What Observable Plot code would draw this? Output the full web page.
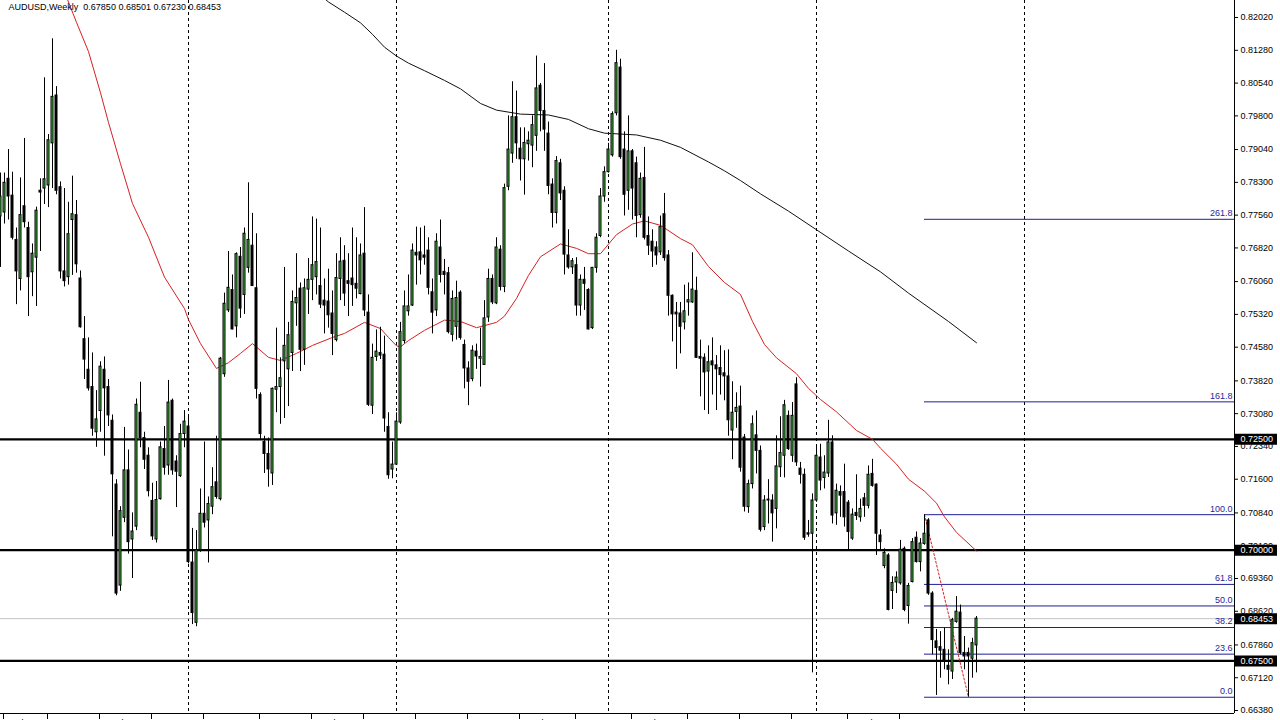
<!DOCTYPE html>
<html><head><meta charset="utf-8">
<script src="https://cdn.jsdelivr.net/npm/d3@7"></script>
<script src="https://cdn.jsdelivr.net/npm/@observablehq/plot@0.6"></script>
<style>html,body{margin:0;padding:0;overflow:hidden;background:#fff}</style>
</head><body><div id="chart"></div>
<script>
// Weekly AUDUSD candles (index 0 = week of 8 Feb 2015)
const open = [
0.7753,0.7762,0.7838,0.7800,0.7700,0.7612,0.7776,0.7727,0.7627,0.7660,
0.7811,0.7816,0.7823,0.7918,0.8026,0.7819,0.7629,0.7616,0.7745,0.7756,
0.7613,0.7476,0.7407,0.7368,0.7266,0.7314,0.7407,0.7368,0.7292,0.7148,
0.6920,0.7073,0.7180,0.7024,0.7053,0.7310,0.7253,0.7213,0.7111,0.7024,
0.7115,0.7228,0.7191,0.7337,0.7200,0.7167,0.7262,0.7279,0.6972,0.6836,
0.7000,0.7082,0.7067,0.7098,0.7153,0.7115,0.7397,0.7541,0.7587,0.7505,
0.7662,0.7576,0.7637,0.7687,0.7591,0.7350,0.7244,0.7217,0.7173,0.7362,
0.7368,0.7426,0.7408,0.7445,0.7557,0.7590,0.7452,0.7588,0.7610,0.7616,
0.7596,0.7563,0.7561,0.7534,0.7474,0.7612,0.7653,0.7607,0.7613,0.7601,
0.7578,0.7669,0.7536,0.7326,0.7436,0.7445,0.7441,0.7278,0.7182,0.7193,
0.7288,0.7472,0.7539,0.7552,0.7671,0.7672,0.7665,0.7676,0.7582,0.7541,
0.7683,0.7628,0.7625,0.7486,0.7504,0.7581,0.7463,0.7410,0.7386,0.7448,
0.7432,0.7418,0.7525,0.7612,0.7557,0.7678,0.7594,0.7820,0.7895,0.7977,
0.7906,0.7882,0.7916,0.7913,0.7935,0.8048,0.7991,0.7940,0.7825,0.7761,
0.7873,0.7811,0.7665,0.7638,0.7643,0.7552,0.7610,0.7587,0.7501,0.7637,
0.7709,0.7798,0.7853,0.7891,0.7986,0.8089,0.7904,0.7811,0.7900,0.7873,
0.7756,0.7840,0.7709,0.7696,0.7683,0.7672,0.7758,0.7665,0.7574,0.7536,
0.7534,0.7514,0.7559,0.7559,0.7585,0.7436,0.7434,0.7403,0.7426,0.7417,
0.7411,0.7399,0.7392,0.7270,0.7312,0.7324,0.7254,0.7097,0.7149,0.7259,
0.7224,0.7052,0.7112,0.7112,0.7093,0.7187,0.7213,0.7303,0.7213,0.7374,
0.7184,0.7170,0.7038,0.7037,0.7112,0.7209,0.7163,0.7173,0.7243,0.7083,
0.7131,0.7131,0.7107,0.7026,0.7084,0.7074,0.7117,0.7100,0.7172,0.7148,
0.7033,0.6964,0.6988,0.6908,0.6927,0.6925,0.7003,0.6874,0.6928,0.7028,
0.6973,0.7014,0.7067,0.6902,0.6794,0.6781,0.6775,0.6739,0.6726,0.6838,
0.6859,0.6768,0.6768,0.6755,0.67850];
const high = [
0.7851,0.7851,0.7904,0.7853,0.7727,0.7840,0.7929,0.7740,0.7691,0.7774,
0.7838,0.8066,0.7938,0.8154,0.8046,0.7831,0.7816,0.7785,0.7844,0.7789,
0.7630,0.7527,0.7479,0.7445,0.7360,0.7425,0.7436,0.7385,0.7305,0.7159,
0.7098,0.7277,0.7226,0.7084,0.7341,0.7379,0.7266,0.7231,0.7151,0.7155,
0.7244,0.7279,0.7383,0.7341,0.7213,0.7284,0.7315,0.7306,0.7049,0.7044,
0.7138,0.7244,0.7120,0.7186,0.7257,0.7435,0.7580,0.7674,0.7621,0.7671,
0.7683,0.7727,0.7829,0.7760,0.7714,0.7355,0.7257,0.7253,0.7366,0.7501,
0.7434,0.7638,0.7514,0.7585,0.7669,0.7603,0.7612,0.7658,0.7752,0.7747,
0.7727,0.7612,0.7634,0.7585,0.7669,0.7705,0.7687,0.7669,0.7727,0.7705,
0.7691,0.7773,0.7576,0.7465,0.7497,0.7503,0.7483,0.7310,0.7244,0.7310,
0.7514,0.7585,0.7621,0.7691,0.7729,0.7727,0.7731,0.7705,0.7612,0.7714,
0.7745,0.7656,0.7638,0.7585,0.7607,0.7585,0.7474,0.7425,0.7461,0.7465,
0.7501,0.7563,0.7634,0.7621,0.7705,0.7687,0.7826,0.7980,0.8057,0.8036,
0.7953,0.7953,0.7944,0.7980,0.8115,0.8053,0.8098,0.7966,0.7838,0.7888,
0.7882,0.7820,0.7723,0.7658,0.7660,0.7621,0.7638,0.7590,0.7638,0.7714,
0.7816,0.7865,0.7918,0.7989,0.8128,0.8108,0.7944,0.7980,0.7904,0.7887,
0.7851,0.7909,0.7752,0.7723,0.7696,0.7754,0.7805,0.7676,0.7576,0.7559,
0.7559,0.7598,0.7603,0.7671,0.7616,0.7474,0.7443,0.7461,0.7479,0.7439,
0.7461,0.7450,0.7452,0.7380,0.7355,0.7370,0.7261,0.7158,0.7303,0.7314,
0.7235,0.7123,0.7159,0.7125,0.7258,0.7301,0.7338,0.7314,0.7333,0.7389,
0.7198,0.7183,0.7067,0.7127,0.7235,0.7239,0.7213,0.7293,0.7258,0.7149,
0.7145,0.7194,0.7112,0.7093,0.7170,0.7115,0.7128,0.7190,0.7205,0.7149,
0.7046,0.7003,0.6992,0.6940,0.6951,0.7022,0.7007,0.6925,0.7026,0.7041,
0.7026,0.7080,0.7071,0.6906,0.6821,0.6816,0.6824,0.6775,0.6846,0.6895,
0.6876,0.6805,0.6779,0.6801,0.68501];
const low = [
0.7638,0.7736,0.7745,0.7700,0.7554,0.7585,0.7727,0.7527,0.7572,0.7550,
0.7674,0.7780,0.7773,0.7816,0.7802,0.7612,0.7594,0.7598,0.7620,0.7625,
0.7501,0.7385,0.7359,0.7257,0.7232,0.7266,0.7212,0.7279,0.7030,0.6897,
0.6907,0.7062,0.6991,0.6936,0.7044,0.7231,0.7182,0.7120,0.7022,0.7016,
0.7113,0.7169,0.7169,0.7169,0.7096,0.7164,0.7231,0.6969,0.6832,0.6827,
0.6995,0.7050,0.6971,0.7080,0.7115,0.7111,0.7390,0.7536,0.7497,0.7479,
0.7523,0.7532,0.7625,0.7596,0.7341,0.7248,0.7173,0.7142,0.7146,0.7310,
0.7284,0.7297,0.7324,0.7403,0.7505,0.7403,0.7417,0.7532,0.7563,0.7576,
0.7545,0.7488,0.7501,0.7439,0.7470,0.7563,0.7550,0.7527,0.7550,0.7567,
0.7576,0.7527,0.7324,0.7306,0.7426,0.7430,0.7266,0.7160,0.7161,0.7191,
0.7284,0.7466,0.7528,0.7550,0.7598,0.7621,0.7643,0.7576,0.7488,0.7527,
0.7603,0.7576,0.7488,0.7470,0.7474,0.7474,0.7364,0.7326,0.7380,0.7408,
0.7368,0.7417,0.7514,0.7554,0.7554,0.7585,0.7581,0.7811,0.7873,0.7882,
0.7833,0.7801,0.7878,0.7863,0.7900,0.7944,0.7900,0.7802,0.7727,0.7736,
0.7789,0.7621,0.7634,0.7622,0.7528,0.7528,0.7541,0.7497,0.7498,0.7625,
0.7705,0.7785,0.7851,0.7887,0.7980,0.7882,0.7754,0.7767,0.7745,0.7705,
0.7749,0.7700,0.7665,0.7638,0.7643,0.7665,0.7652,0.7528,0.7470,0.7408,
0.7443,0.7497,0.7528,0.7557,0.7433,0.7346,0.7315,0.7306,0.7350,0.7315,
0.7350,0.7337,0.7257,0.7204,0.7275,0.7176,0.7086,0.7083,0.7138,0.7172,
0.7041,0.7044,0.7059,0.7018,0.7048,0.7164,0.7163,0.7225,0.7198,0.7189,
0.7149,0.7022,0.7029,0.6723,0.7108,0.7134,0.7138,0.7164,0.7059,0.7056,
0.7074,0.7052,0.6999,0.7022,0.7067,0.7063,0.7074,0.7093,0.7142,0.6988,
0.6999,0.6958,0.6863,0.6866,0.6902,0.6921,0.6861,0.6833,0.6926,0.6971,
0.6951,0.7011,0.6898,0.6764,0.6672,0.6711,0.6730,0.6696,0.6708,0.6835,
0.6764,0.6730,0.6668,0.6711,0.67230];
const close = [
0.7798,0.7829,0.7798,0.7705,0.7629,0.7756,0.7740,0.7616,0.7669,0.7766,
0.7807,0.7837,0.7925,0.8023,0.7811,0.7629,0.7607,0.7713,0.7758,0.7645,
0.7503,0.7430,0.7365,0.7274,0.7295,0.7414,0.7365,0.7304,0.7171,0.6902,
0.7088,0.7180,0.7018,0.7042,0.7328,0.7253,0.7204,0.7133,0.7031,0.7113,
0.7232,0.7186,0.7333,0.7180,0.7177,0.7262,0.7290,0.6973,0.6858,0.7000,
0.7082,0.7062,0.7104,0.7142,0.7120,0.7432,0.7556,0.7592,0.7498,0.7668,
0.7545,0.7714,0.7700,0.7596,0.7364,0.7262,0.7217,0.7182,0.7364,0.7368,
0.7388,0.7461,0.7485,0.7560,0.7569,0.7452,0.7591,0.7610,0.7643,0.7650,
0.7554,0.7552,0.7530,0.7488,0.7614,0.7651,0.7579,0.7601,0.7598,0.7590,
0.7665,0.7541,0.7328,0.7434,0.7448,0.7439,0.7297,0.7169,0.7193,0.7290,
0.7492,0.7550,0.7550,0.7676,0.7665,0.7654,0.7660,0.7592,0.7536,0.7696,
0.7621,0.7621,0.7492,0.7567,0.7569,0.7479,0.7410,0.7380,0.7450,0.7437,
0.7436,0.7523,0.7612,0.7559,0.7683,0.7594,0.7817,0.7904,0.7977,0.7918,
0.7882,0.7919,0.7924,0.7959,0.8042,0.7991,0.7949,0.7822,0.7761,0.7878,
0.7805,0.7667,0.7638,0.7652,0.7552,0.7610,0.7601,0.7498,0.7637,0.7705,
0.7798,0.7853,0.7904,0.7984,0.8099,0.7887,0.7802,0.7900,0.7816,0.7754,
0.7838,0.7705,0.7687,0.7674,0.7665,0.7729,0.7659,0.7574,0.7532,0.7532,
0.7504,0.7539,0.7564,0.7588,0.7434,0.7432,0.7401,0.7424,0.7417,0.7408,
0.7395,0.7392,0.7293,0.7310,0.7321,0.7186,0.7098,0.7149,0.7284,0.7224,
0.7046,0.7112,0.7114,0.7083,0.7189,0.7219,0.7327,0.7228,0.7303,0.7198,
0.7170,0.7028,0.7035,0.7112,0.7213,0.7157,0.7175,0.7243,0.7078,0.7134,
0.7123,0.7074,0.7041,0.7080,0.7077,0.7093,0.7100,0.7170,0.7145,0.7037,
0.7018,0.6994,0.6865,0.6926,0.6938,0.7001,0.6865,0.6919,0.7018,0.6973,
0.7015,0.7037,0.6902,0.6797,0.6779,0.6773,0.6749,0.6730,0.6842,0.6861,
0.6768,0.6760,0.6760,0.6790,0.68453];

// Moving averages (bar index, price)
const redIdx = [16,19,22,25,27,30,33,37,41,46,47,50,54,57,60,63,67,70,74,78,83,86,91,95,97,99,100,102,106,111,115,119,124,126,129,132,135,140,144,147,150,154,158,161,165,170,173,177,181,185,188,191,194,199,202,205,209,214,218,220,224,227,231,234,236,239,244];
const redVal = [0.8260,0.8191,0.8125,0.8032,0.7965,0.7872,0.7782,0.7706,0.7616,0.7545,0.7520,0.7466,0.7410,0.7423,0.7444,0.7466,0.7435,0.7428,0.7444,0.7462,0.7480,0.7489,0.7514,0.7500,0.7480,0.7461,0.7459,0.7473,0.7496,0.7519,0.7516,0.7502,0.7514,0.7528,0.7568,0.7620,0.7662,0.7691,0.7681,0.7669,0.7669,0.7712,0.7736,0.7743,0.7733,0.7703,0.7689,0.7640,0.7604,0.7577,0.7516,0.7464,0.7434,0.7398,0.7365,0.7340,0.7312,0.7270,0.7250,0.7230,0.7194,0.7160,0.7133,0.7106,0.7075,0.7040,0.6998];
const blackIdx = [80,82,86,90,93,96,99,102,106,111,115,120,124,130,137,142,147,151,159,165,170,177,181,185,190,197,204,212,220,227,237,244];
const blackVal = [0.8252,0.8237,0.8214,0.8190,0.8164,0.8135,0.8115,0.8099,0.8082,0.8060,0.8041,0.8008,0.7993,0.7984,0.7982,0.7972,0.7951,0.7941,0.7937,0.7925,0.7909,0.7876,0.7856,0.7834,0.7804,0.7765,0.7723,0.7675,0.7628,0.7580,0.7516,0.7468];

const levels = [0.725, 0.700, 0.675];
const fibRatios = [0, 23.6, 38.2, 50, 61.8, 100, 161.8, 261.8];
const fibHigh = 0.7080, fibLow = 0.6668, fibStart = 231, fibEnd = 242;
const yTicks = [0.82020,0.81280,0.80540,0.79800,0.79040,0.78300,0.77560,0.76820,0.76060,0.75320,0.74580,0.73820,0.73080,0.72340,0.71600,0.70840,0.70100,0.69360,0.68620,0.67860,0.67120,0.66380];
const gridIdx = [47, 99, 152, 204, 256];
const dateIdx = [0,11,24,37,50,64,77,90,103,116,129,143,157,171,184,197,211,224];
const dateLabels = ["8 Feb 2015","26 Apr 2015","26 Jul 2015","25 Oct 2015","24 Jan 2016","1 May 2016","31 Jul 2016","30 Oct 2016","29 Jan 2017","30 Apr 2017","30 Jul 2017","5 Nov 2017","11 Feb 2018","20 May 2018","19 Aug 2018","18 Nov 2018","24 Feb 2019","26 May 2019"];

const candles = open.map((o, i) => ({i, o, h: high[i], l: low[i], c: close[i], up: close[i] >= o}));
const redMA = redIdx.map((x, k) => ({x, y: redVal[k]}));
const blackMA = blackIdx.map((x, k) => ({x, y: blackVal[k]}));
const fib = fibRatios.map(r => ({v: fibLow + (fibHigh - fibLow) * r / 100, label: r.toFixed(1)}));
const last = open.length - 1;
const lastPrice = close[last];
const boxes = [...levels, lastPrice];
const title = `AUDUSD,Weekly  ${open[last].toFixed(5)} ${high[last].toFixed(5)} ${low[last].toFixed(5)} ${close[last].toFixed(5)}`;
const dateMap = new Map(dateIdx.map((d, k) => [d, dateLabels[k]]));

const xMax = 308.5, yMin = 0.66313, yMax = 0.82404;
const GREEN = "#3fbf3f", BLUE = "#1f1f99", RED = "#d82020";
const FONT = "'Liberation Sans', Arial, sans-serif";

const chart = Plot.plot({
  width: 1280, height: 720,
  marginLeft: 0, marginRight: 46, marginTop: 0, marginBottom: 7,
  x: {domain: [0, xMax]},
  y: {domain: [yMin, yMax], label: null},
  style: {fontFamily: FONT, fontSize: "9px", background: "white", color: "black"},
  marks: [
    Plot.ruleX(gridIdx, {stroke: "black", strokeDasharray: "3,3", strokeWidth: 1}),
    Plot.ruleY([lastPrice], {stroke: "#c4c4c4", strokeWidth: 1}),
    Plot.ruleY(levels, {stroke: "black", strokeWidth: 2.2}),
    Plot.ruleY(fib, {y: "v", x1: fibStart, x2: xMax, stroke: BLUE, strokeWidth: 1}),
    Plot.text(fib, {x: xMax, y: "v", text: "label", textAnchor: "end", dx: -2, dy: -6, fill: BLUE, fontSize: 9}),
    Plot.line(redMA, {x: "x", y: "y", stroke: RED, strokeWidth: 1}),
    Plot.line(blackMA, {x: "x", y: "y", stroke: "#111", strokeWidth: 1}),
    Plot.line([[fibStart, fibHigh], [fibEnd, fibLow]], {stroke: RED, strokeDasharray: "2,2", strokeWidth: 1}),
    Plot.ruleX(candles, {x: "i", y1: "l", y2: "h", stroke: "black", strokeWidth: 1}),
    Plot.rect(candles, {x1: d => d.i - 0.25, x2: d => d.i + 0.25, y1: "o", y2: "c",
      fill: d => d.up ? GREEN : "black", stroke: "black", strokeWidth: 1}),
    Plot.ruleX([xMax], {stroke: "black"}),
    Plot.ruleY([yMin], {stroke: "black"}),
    Plot.axisY(yTicks, {anchor: "right", tickFormat: d => d.toFixed(5), tickSize: 3, tickPadding: 3, fontSize: 9, label: null}),
    Plot.ruleY(boxes, {y: d => d, x1: xMax + 0.25, x2: xMax + 10.75, stroke: "black", strokeWidth: 11}),
    Plot.text(boxes, {x: xMax, y: d => d, text: d => d.toFixed(5), fill: "white", textAnchor: "start", dx: 6, fontSize: 9}),
    Plot.axisX(dateIdx, {anchor: "bottom", tickSize: 6, tickPadding: 0, tickFormat: d => dateMap.get(d), textAnchor: "start", dx: 3, fontSize: 9, label: null}),
    Plot.text([title], {frameAnchor: "top-left", dx: 8, dy: 3, fontSize: 9, fill: "black"})
  ]
});
document.getElementById("chart").appendChild(chart);
</script>
</body></html>
